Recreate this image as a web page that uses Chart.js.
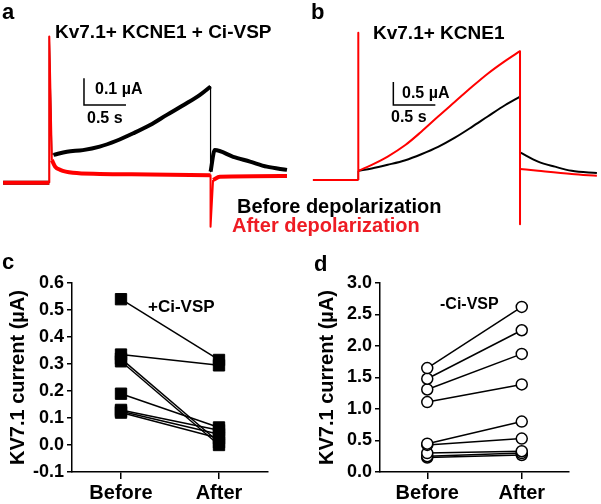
<!DOCTYPE html>
<html>
<head>
<meta charset="utf-8">
<script src="https://cdn.jsdelivr.net/npm/chart.js"></script>
<style>
body { margin: 0; background: #fff; }
#wrap { position: relative; width: 601px; height: 504px; overflow: hidden;
        font-family: "Liberation Sans", Arial, sans-serif; font-weight: bold; color: #000; }
canvas { position: absolute; }
.t { position: absolute; line-height: 1; white-space: nowrap; }
</style>
</head>
<body>
<div id="wrap">
  <canvas id="chartA" width="300" height="250" style="left:0;top:0"></canvas>
  <canvas id="chartB" width="301" height="250" style="left:300px;top:0"></canvas>
  <canvas id="chartC" width="300" height="254" style="left:0;top:250px"></canvas>
  <canvas id="chartD" width="301" height="254" style="left:300px;top:250px"></canvas>

  <div class="t" style="left:2px;top:1px;font-size:22px">a</div>
  <div class="t" style="left:55px;top:22px;font-size:19px">Kv7.1+ KCNE1 + Ci-VSP</div>
  <div class="t" style="left:95px;top:81px;font-size:16px">0.1 µA</div>
  <div class="t" style="left:87px;top:110px;font-size:16px">0.5 s</div>

  <div class="t" style="left:311px;top:1px;font-size:22px">b</div>
  <div class="t" style="left:373px;top:23px;font-size:19px">Kv7.1+ KCNE1</div>
  <div class="t" style="left:402px;top:85px;font-size:16px">0.5 µA</div>
  <div class="t" style="left:391px;top:109px;font-size:16px">0.5 s</div>

  <div class="t" style="left:237px;top:196px;font-size:20px">Before depolarization</div>
  <div class="t" style="left:232px;top:215px;font-size:20px;color:#ee1c24">After depolarization</div>

  <div class="t" style="left:2px;top:251px;font-size:22px">c</div>
  <div class="t" style="left:148px;top:298px;font-size:17px">+Ci-VSP</div>
  <div class="t" style="left:314px;top:253px;font-size:22px">d</div>
  <div class="t" style="left:440px;top:296px;font-size:16px">-Ci-VSP</div>
</div>
<script>
// ==========================
// Trace data (time in s, current in µA)
// ==========================
const aBlackT = [-0.55, 0, 0, 0.03, 0.05, 0.21, 0.40, 0.60, 0.80, 1.00, 1.20, 1.40, 1.60, 1.79, 1.92, 1.92, 1.97, 2.19, 2.39, 2.59, 2.83];
const aBlackI = [0, 0, 0.547, 0.11, 0.104, 0.116, 0.122, 0.135, 0.157, 0.185, 0.216, 0.254, 0.291, 0.328, 0.36, 0.041, 0.122, 0.097, 0.079, 0.06, 0.048];
const aRedT = [-0.55, 0, 0, 0.03, 0.07, 0.13, 0.28, 0.60, 1.20, 1.92, 1.92, 1.95, 2.03, 2.83];
const aRedI = [0, 0, 0.547, 0.085, 0.06, 0.048, 0.037, 0.033, 0.031, 0.028, -0.165, 0.01, 0.022, 0.025];

const bBlackT = [-0.54, 0, 0, 0.16, 0.35, 0.56, 0.75, 0.95, 1.15, 1.35, 1.54, 1.75, 1.925, 1.925, 2.14, 2.34, 2.54, 2.84];
const bBlackI = [0, 0, 0.20, 0.25, 0.33, 0.43, 0.56, 0.72, 0.92, 1.15, 1.38, 1.63, 1.81, 0.60, 0.40, 0.29, 0.20, 0.15];
const bRedT = [-0.54, 0, 0, 0, 0.16, 0.35, 0.56, 0.75, 0.95, 1.15, 1.35, 1.54, 1.75, 1.925, 1.925, 1.925, 2.14, 2.54, 2.84];
const bRedI = [0, 0, 3.20, 0.20, 0.33, 0.51, 0.76, 1.05, 1.38, 1.70, 2.02, 2.31, 2.59, 2.80, -0.96, 0.24, 0.20, 0.13, 0.09];

// scale bars: corner (t, i), length dt (s) and di (µA)
const scaleBarA = { t: 0.413, i: 0.291, dt: 0.5, di: 0.1 };
const scaleBarB = { t: 0.417, i: 1.63, dt: 0.5, di: 0.5 };

// ==========================
// Paired data
// ==========================
const categories = ["Before", "After"];
const cBefore = [0.54, 0.335, 0.32, 0.31, 0.19, 0.13, 0.125, 0.12];
const cAfter = [0.315, 0.295, 0.01, 0.0, 0.065, 0.055, 0.04, 0.025];
const cTicks = [-0.1, 0.0, 0.1, 0.2, 0.3, 0.4, 0.5, 0.6];
const dBefore = [1.65, 1.48, 1.31, 1.11, 0.45, 0.43, 0.30, 0.25, 0.23];
const dAfter = [2.62, 2.25, 1.875, 1.39, 0.80, 0.53, 0.33, 0.30, 0.27];
const dTicks = [0.0, 0.5, 1.0, 1.5, 2.0, 2.5, 3.0];

const RED = "#ff0000";
const FONT = "'Liberation Sans', Arial, sans-serif";

// Split a trace into runs: fast jumps (capacitive spikes, steps) get a thin pen,
// the slow current gets the thick one
function traceDatasets(ts, is, color, width, thinWidth) {
    const out = [];
    let run = [{ x: ts[0], y: is[0] }];
    let thin = null;
    for (let k = 1; k < ts.length; k++) {
        const segThin = Math.abs(ts[k] - ts[k - 1]) < 0.04 && Math.abs(is[k] - is[k - 1]) > 0;
        if (thin !== null && segThin !== thin) {
            out.push({ pts: run, thin });
            run = [run[run.length - 1]];
        }
        thin = segThin;
        run.push({ x: ts[k], y: is[k] });
    }
    out.push({ pts: run, thin });
    return out.map(r => ({
        data: r.pts,
        borderColor: color,
        borderWidth: r.thin ? thinWidth : width,
        cubicInterpolationMode: r.thin ? "default" : "monotone",
        tension: r.thin ? 0 : 0.4,
        pointRadius: 0,
        borderJoinStyle: "round"
    }));
}

const scaleBarPlugin = {
    id: "scaleBar",
    afterDraw(chart) {
        const bar = chart.options.plugins.scaleBar;
        const { ctx, scales } = chart;
        const x0 = scales.x.getPixelForValue(bar.t);
        const x1 = scales.x.getPixelForValue(bar.t + bar.dt);
        const y0 = scales.y.getPixelForValue(bar.i);
        const y1 = scales.y.getPixelForValue(bar.i + bar.di);
        ctx.save();
        ctx.strokeStyle = "#000";
        ctx.lineWidth = 1.5;
        ctx.beginPath();
        ctx.moveTo(x0, y1);
        ctx.lineTo(x0, y0);
        ctx.lineTo(x1, y0);
        ctx.stroke();
        ctx.restore();
    }
};

function traceChart(id, datasets, xr, yr, bar) {
    return new Chart(document.getElementById(id), {
        type: "line",
        data: { datasets },
        options: {
            responsive: false,
            animation: false,
            layout: { padding: 0 },
            plugins: { legend: { display: false }, tooltip: { enabled: false }, scaleBar: bar },
            scales: {
                x: { type: "linear", display: false, min: xr[0], max: xr[1] },
                y: { type: "linear", display: false, min: yr[0], max: yr[1] }
            }
        },
        plugins: [scaleBarPlugin]
    });
}

// red first so it is drawn on top
traceChart("chartA", [
    ...traceDatasets(aRedT, aRedI, RED, 4, 2),
    ...traceDatasets(aBlackT, aBlackI, "#000", 4, 1.2)
], [-0.587, 2.985], [-0.252, 0.684], scaleBarA);

traceChart("chartB", [
    ...traceDatasets(bRedT, bRedI, RED, 2, 2),
    ...traceDatasets(bBlackT, bBlackI, "#000", 2, 1.5)
], [-0.694, 2.889], [-1.522, 3.913], scaleBarB);

// ==========================
// Before / After panels
// ==========================
function pairChart(id, before, after, ticks, stepSize, style, pad, yWidth) {
    const datasets = before.map((b, k) => ({
        data: [{ x: 1, y: b }, { x: 3, y: after[k] }],
        borderColor: "#000",
        borderWidth: 1.5,
        pointStyle: style.shape,
        pointRadius: style.radius,
        pointBorderWidth: style.border,
        pointBackgroundColor: style.fill,
        pointBorderColor: "#000",
        clip: false
    }));
    return new Chart(document.getElementById(id), {
        type: "line",
        data: { datasets },
        options: {
            responsive: false,
            animation: false,
            layout: { padding: pad },
            plugins: { legend: { display: false }, tooltip: { enabled: false } },
            scales: {
                x: {
                    type: "linear", min: 0, max: 4,
                    afterBuildTicks: s => { s.ticks = [{ value: 1 }, { value: 3 }]; },
                    afterFit: s => { s.height = 32; },
                    ticks: {
                        color: "#000", padding: 2,
                        font: { family: FONT, size: 20, weight: "bold" },
                        callback: v => categories[(v - 1) / 2]
                    },
                    grid: { drawOnChartArea: false, color: "#000", lineWidth: 1.5, tickLength: 7 },
                    border: { color: "#000", width: 1.5 }
                },
                y: {
                    type: "linear", min: ticks[0], max: ticks[ticks.length - 1],
                    afterFit: s => { s.width = yWidth; },
                    ticks: {
                        color: "#000", stepSize, padding: 3,
                        font: { family: FONT, size: 18, weight: "bold" },
                        callback: v => (Math.round(v * 10) / 10).toFixed(1)
                    },
                    grid: { drawOnChartArea: false, color: "#000", lineWidth: 1.5, tickLength: 5 },
                    border: { color: "#000", width: 1.5 },
                    title: {
                        display: true, text: "KV7.1 current (µA)", color: "#000",
                        font: { family: FONT, size: 20, weight: "bold" },
                        padding: { top: 4, bottom: 0 }
                    }
                }
            }
        }
    });
}

pairChart("chartC", cBefore, cAfter, cTicks, 0.1,
    { shape: "rect", radius: 8, border: 1, fill: "#000" },
    { left: 2, right: 32, top: 33, bottom: 0 }, 70);

pairChart("chartD", dBefore, dAfter, dTicks, 0.5,
    { shape: "circle", radius: 5.5, border: 1.5, fill: "#fff" },
    { left: 11, right: 32, top: 33, bottom: 0 }, 69);
</script>
</body>
</html>
